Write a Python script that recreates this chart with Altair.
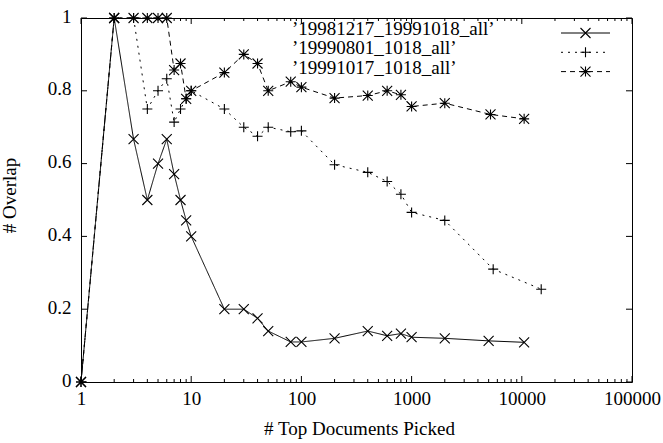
import altair as alt
import pandas as pd

# ---- data -------------------------------------------------------------
SERIES = ["\u201919981217_19991018_all\u2019", "\u201919990801_1018_all\u2019", "\u201919991017_1018_all\u2019"]

docs_a = [1, 2, 3, 4, 5, 6, 7, 8, 9, 10, 20, 30, 40, 50, 80, 100, 200, 400, 600, 800, 1000, 2000, 5000, 10500]
overlap_a = [0, 1, 0.667, 0.5, 0.6, 0.667, 0.571, 0.5, 0.444, 0.4, 0.2, 0.2, 0.175, 0.14, 0.11, 0.11,
             0.12, 0.14, 0.127, 0.133, 0.123, 0.12, 0.113, 0.109]

docs_b = [1, 2, 3, 4, 5, 6, 7, 8, 9, 10, 20, 30, 40, 50, 80, 100, 200, 400, 600, 800, 1000, 2000, 5500, 15000]
overlap_b = [0, 1, 1, 0.75, 0.8, 0.833, 0.714, 0.75, 0.778, 0.8, 0.75, 0.7, 0.675, 0.7, 0.6875, 0.69,
             0.597, 0.576, 0.551, 0.516, 0.466, 0.444, 0.31, 0.255]

docs_c = [1, 2, 3, 4, 5, 6, 7, 8, 9, 10, 20, 30, 40, 50, 80, 100, 200, 400, 600, 800, 1000, 2000, 5200, 10500]
overlap_c = [0, 1, 1, 1, 1, 1, 0.857, 0.875, 0.778, 0.8, 0.85, 0.9, 0.875, 0.8, 0.825, 0.81,
             0.78, 0.787, 0.8, 0.789, 0.757, 0.766, 0.735, 0.723]

X_MAJOR = [1, 10, 100, 1000, 10000, 100000]
X_MINOR = [m * 10 ** k for k in range(5) for m in range(2, 10)]
Y_MAJOR = [0, 0.2, 0.4, 0.6, 0.8, 1.0]

# ---- layout / style ---------------------------------------------------
W, H = 551, 364
FONT = "Liberation Serif"
FS = 19
MAJOR_LEN, MINOR_LEN = 6, 3

DASHES = [[1, 0], [2, 5], [5, 4]]
X_PATH = "M-1,-1L1,1M-1,1L1,-1"
PLUS_PATH = "M-1,0L1,0M0,-1L0,1"
STAR_PATH = PLUS_PATH + X_PATH
SHAPES = [X_PATH, PLUS_PATH, STAR_PATH]

frames = []
for name, d, o in [(SERIES[0], docs_a, overlap_a), (SERIES[1], docs_b, overlap_b), (SERIES[2], docs_c, overlap_c)]:
    frames.append(pd.DataFrame({"series": name, "docs": d, "overlap": o}))
df = pd.concat(frames, ignore_index=True)

xscale = alt.Scale(type="log", domain=[1, 100000], nice=False)
yscale = alt.Scale(domain=[0, 1], nice=False, zero=False)
dash_enc = alt.StrokeDash("series:N", scale=alt.Scale(domain=SERIES, range=DASHES), legend=None)
shape_enc = alt.Shape("series:N", scale=alt.Scale(domain=SERIES, range=SHAPES), legend=None)

x_enc = alt.X(
    "docs:Q", scale=xscale,
    axis=alt.Axis(values=X_MAJOR, format="d", labelPadding=7, labelFlush=False, labelOverlap=False,
                  title="# Top Documents Picked", titleX=278, titleY=52.7, titleBaseline="alphabetic",
                  titleAlign="center"),
)
y_enc = alt.Y(
    "overlap:Q", scale=yscale,
    axis=alt.Axis(values=Y_MAJOR, format="~g", labelPadding=10, labelOffset=-2, labelFlush=False,
                  labelOverlap=False, title="# Overlap", titleX=-66, titleY=177,
                  titleBaseline="alphabetic", titleAlign="center"),
)

base = alt.Chart(df).encode(x=x_enc, y=y_enc)
lines = base.mark_line(color="black", strokeWidth=1).encode(strokeDash=dash_enc, detail="series:N")
points = base.mark_point(filled=False, color="black", strokeWidth=1.1, size=100, opacity=1).encode(shape=shape_enc)

# inward tick marks on all four sides of the frame
tx_major = pd.DataFrame({"t": X_MAJOR})
tx_minor = pd.DataFrame({"t": X_MINOR})
ty_major = pd.DataFrame({"t": Y_MAJOR})
tx = alt.X("t:Q", scale=xscale)
ty = alt.Y("t:Q", scale=yscale)
tick_layers = [
    alt.Chart(tx_major).mark_rule(color="black").encode(x=tx, y=alt.value(H), y2=alt.value(H - MAJOR_LEN)),
    alt.Chart(tx_major).mark_rule(color="black").encode(x=tx, y=alt.value(0), y2=alt.value(MAJOR_LEN)),
    alt.Chart(tx_minor).mark_rule(color="black").encode(x=tx, y=alt.value(H), y2=alt.value(H - MINOR_LEN)),
    alt.Chart(tx_minor).mark_rule(color="black").encode(x=tx, y=alt.value(0), y2=alt.value(MINOR_LEN)),
    alt.Chart(ty_major).mark_rule(color="black").encode(y=ty, x=alt.value(0), x2=alt.value(MAJOR_LEN)),
    alt.Chart(ty_major).mark_rule(color="black").encode(y=ty, x=alt.value(W), x2=alt.value(W - MAJOR_LEN)),
]

# key: label on the left, line sample with marker on the right, one row per series
KEY_TOP, KEY_STEP = 15, 19.3
key_layers = []
for i, name in enumerate(SERIES):
    row = alt.Chart(pd.DataFrame({"series": [name]}))
    ry = KEY_TOP + KEY_STEP * i
    key_layers += [
        row.mark_text(align="left", baseline="alphabetic", font=FONT, fontSize=FS, color="black").encode(
            x=alt.value(211), y=alt.value(ry + 2), text="series:N"),
        row.mark_rule(color="black", strokeWidth=1).encode(
            x=alt.value(480), x2=alt.value(529), y=alt.value(ry), strokeDash=dash_enc),
        row.mark_point(filled=False, color="black", strokeWidth=1.1, size=100, opacity=1).encode(
            x=alt.value(504.5), y=alt.value(ry), shape=shape_enc),
    ]

chart = (
    alt.layer(lines, points, *tick_layers, *key_layers)
    .properties(width=W, height=H, padding={"left": 81, "top": 18, "right": 31, "bottom": 61},
                autosize=alt.AutoSizeParams(type="none"), background="white")
    .configure_view(stroke="black", strokeWidth=1)
    .configure_axis(labelFont=FONT, labelFontSize=FS, titleFont=FONT, titleFontSize=FS,
                    titleFontWeight="normal", labelColor="black", titleColor="black",
                    grid=False, ticks=False, domain=False)
)

chart.save("out.html", embed_options={"renderer": "svg", "actions": False})
